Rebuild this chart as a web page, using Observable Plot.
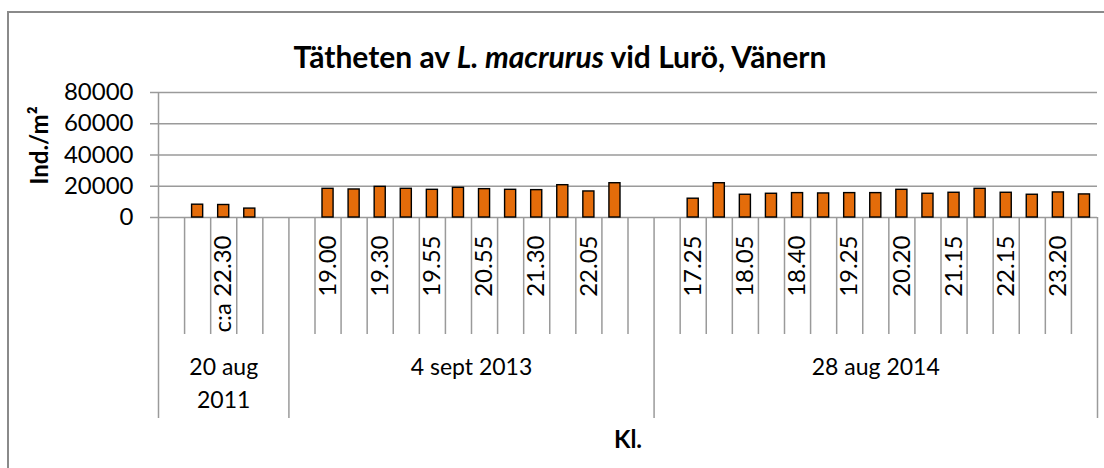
<!DOCTYPE html>
<html><head><meta charset="utf-8">
<script src="https://cdn.jsdelivr.net/npm/d3@7"></script>
<script src="https://cdn.jsdelivr.net/npm/@observablehq/plot@0.6"></script>
<style>
body{margin:0;background:#fff;}
#wrap{position:relative;width:1104px;height:468px;overflow:hidden;font-family:Lato,sans-serif;}
#border{position:absolute;left:7px;top:11px;width:1200px;height:600px;border:2px solid #8a8a8a;box-sizing:border-box;}
#title{position:absolute;left:0;width:1120px;top:38px;text-align:center;font-size:30px;font-weight:bold;line-height:36px;color:#000;}
#chart{position:absolute;left:0;top:0;}
</style></head><body>
<div id="wrap"><div id="border"></div><div id="chart"></div><div id="title">Tätheten av <i>L. macrurus</i> vid Lurö, Vänern</div></div>
<script>
const groupLabels = ["20 aug\n2011", "4 sept 2013", "28 aug 2014"];
const times2011 = ["", "", "c:a 22.30", "", ""];
const values2011 = [null, 8200, 8000, 5700, null];
const times2013 = ["", "19.00", "", "19.30", "", "19.55", "", "20.55", "", "21.30", "", "22.05", "", ""];
const values2013 = [null, 18360, 17940, 19620, 18360, 17720, 18990, 18150, 17720, 17510, 20680, 16670, 21940, null];
const times2014 = ["", "17.25", "", "18.05", "", "18.40", "", "19.25", "", "20.20", "", "21.15", "", "22.15", "", "23.20", ""];
const values2014 = [null, 12030, 21940, 14560, 15190, 15610, 15400, 15610, 15610, 17720, 15190, 15830, 18360, 15830, 14560, 16040, 14770];
const yTicks = [0, 20000, 40000, 60000, 80000];
const yTitle = "Ind./m²";
const xTitle = "Kl.";

const groups = [
  {label: groupLabels[0], times: times2011, values: values2011},
  {label: groupLabels[1], times: times2013, values: values2013},
  {label: groupLabels[2], times: times2014, values: values2014}
];
const rows = [], groupRows = [];
let idx = 0;
groups.forEach(g => {
  const start = idx;
  g.times.forEach((t, k) => { rows.push({i: idx, time: t, value: g.values[k], group: g.label}); idx++; });
  groupRows.push({label: g.label, start, end: idx});
});
const n = idx;
const groupEnds = groupRows.map(g => g.end);
const catBounds = d3.range(1, n).filter(b => !groupEnds.includes(b));

const grid = "#9a9a9a";
const top0 = 92, zero = 217, bottom0 = 418, catBottom = 334;

const plot = Plot.plot({
  width: 1104, height: 468,
  marginLeft: 158, marginRight: 7, marginTop: top0, marginBottom: 468 - bottom0,
  style: {fontFamily: "Lato, sans-serif", fontSize: "23px", background: "transparent", color: "#000", overflow: "visible"},
  x: {type: "linear", domain: [0, n], axis: null},
  y: {domain: [0, 80000], range: [zero, top0], axis: null},
  marks: [
    Plot.ruleY(yTicks, {y: d => d, stroke: grid, strokeWidth: 1.5, insetLeft: -8}),
    Plot.text(yTicks, {x: 0, y: d => d, text: d => String(d), textAnchor: "end", dx: -25, fontSize: 24}),
    Plot.ruleX([0], {x: d => d, stroke: grid, strokeWidth: 1.5}),
    Plot.ruleX(groupEnds, {x: d => d, stroke: grid, strokeWidth: 1.5, insetTop: zero - top0}),
    Plot.ruleX(catBounds, {x: d => d, stroke: grid, strokeWidth: 1.5, insetTop: zero - top0, insetBottom: bottom0 - catBottom}),
    Plot.rectY(rows.filter(d => d.value != null), {x1: d => d.i, x2: d => d.i + 1, y: "value", insetLeft: 7.5, insetRight: 7.5, fill: "#E46C0A", stroke: "#000", strokeWidth: 1.4}),
    Plot.text(rows.filter(d => d.time), {x: d => d.i + 0.5, y: 0, text: "time", rotate: -90, textAnchor: "end", lineAnchor: "middle", dy: 18, fontSize: 24}),
    Plot.text(groupRows, {x: d => (d.start + d.end) / 2, y: 0, text: "label", lineAnchor: "top", textAnchor: "middle", dy: 135, lineHeight: 1.4, fontSize: 23}),
    Plot.text([xTitle], {frameAnchor: "bottom", text: d => d, textAnchor: "middle", lineAnchor: "middle", dy: 22, fontWeight: "bold", fontSize: 24}),
    Plot.text([yTitle], {frameAnchor: "top-left", text: d => d, rotate: -90, textAnchor: "middle", lineAnchor: "middle", dx: -118, dy: 53, fontWeight: "bold", fontSize: 24})
  ]
});
document.getElementById("chart").appendChild(plot);
</script>
</body></html>
